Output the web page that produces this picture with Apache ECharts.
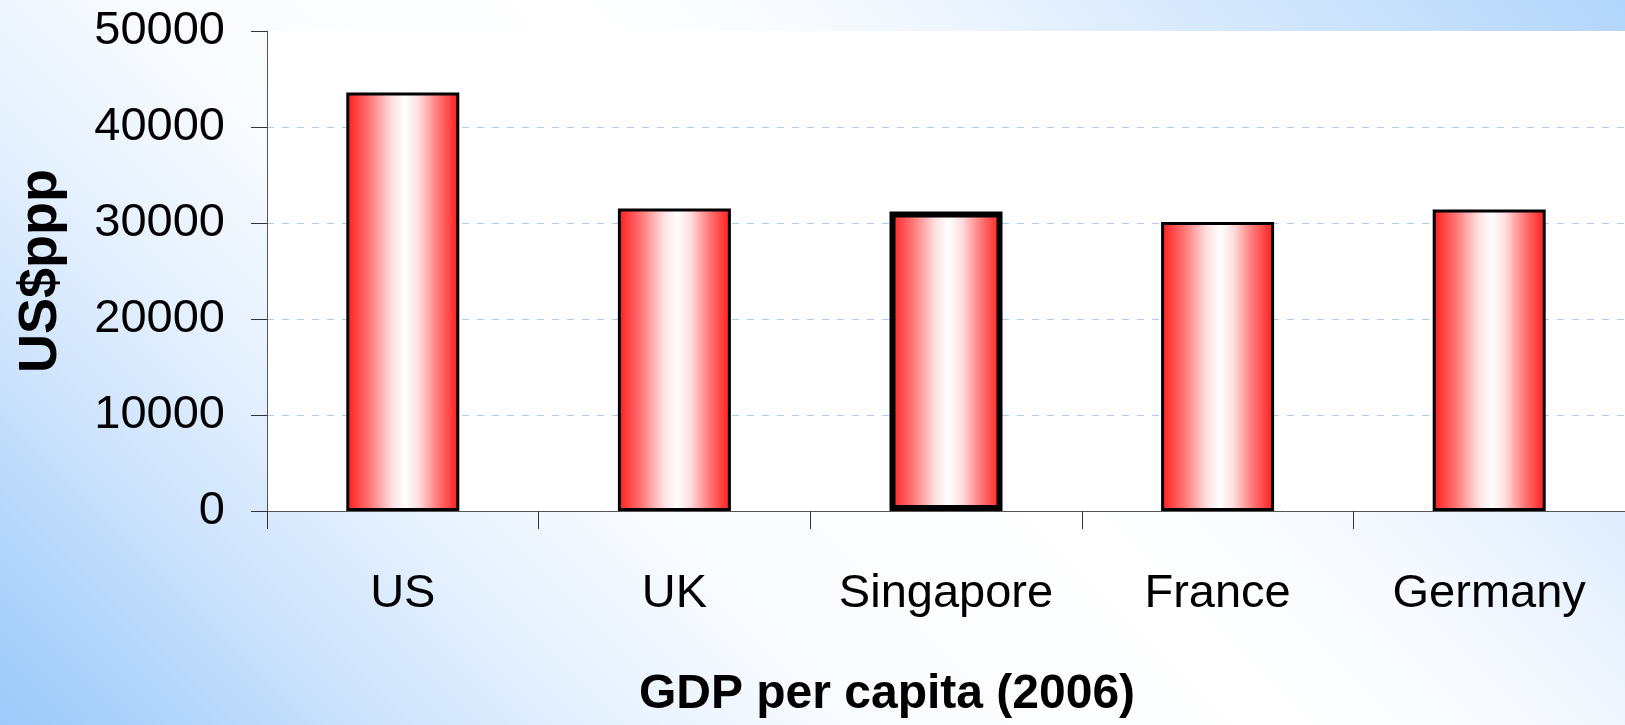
<!DOCTYPE html>
<html>
<head>
<meta charset="utf-8">
<script src="https://cdn.jsdelivr.net/npm/echarts@6/dist/echarts.min.js"></script>
<style>
  html, body { margin: 0; padding: 0; }
  #main { width: 1625px; height: 725px; }
</style>
</head>
<body>
<div id="main"></div>
<script>
// data
const countries = ['US', 'UK', 'Singapore', 'France', 'Germany']
const gdpPerCapita = [43600, 31500, 31200, 30100, 31400]
const borderWidths = [3, 3, 6, 3, 3]
const yTicks = { min: 0, max: 50000, step: 10000 }

const font = 'Liberation Sans, Arial, sans-serif'

const barFill = new echarts.graphic.LinearGradient(0, 0, 1, 0, [
  { offset: 0, color: '#ff1a1a' },
  { offset: 0.2, color: '#ff7272' },
  { offset: 0.4, color: '#ffdede' },
  { offset: 0.52, color: '#ffffff' },
  { offset: 0.64, color: '#ffdede' },
  { offset: 0.82, color: '#ff7272' },
  { offset: 1, color: '#ff1a1a' }
])

const myChart = echarts.init(document.getElementById('main'))
const option = {
  backgroundColor: {
    type: 'linear',
    global: true,
    x: 0, y: 725, x2: 1175, y2: -450,
    colorStops: [
      { offset: 0, color: '#9ccafa' },
      { offset: 0.08, color: '#b2d5fb' },
      { offset: 0.16, color: '#cde3fc' },
      { offset: 0.26, color: '#e6f1fe' },
      { offset: 0.36, color: '#f8fbff' },
      { offset: 0.55, color: '#ffffff' },
      { offset: 0.68, color: '#f3f8ff' },
      { offset: 0.78, color: '#deecfd' },
      { offset: 0.9, color: '#c6e0fc' },
      { offset: 1, color: '#b1d5fb' }
    ]
  },
  animation: false,
  title: {
    text: 'GDP per capita (2006)',
    left: 882,
    top: 666,
    textAlign: 'center',
    textStyle: { fontFamily: font, fontSize: 48, fontWeight: 'bold', color: '#000' }
  },
  grid: {
    left: 267,
    top: 31,
    right: -6,
    bottom: 214,
    show: true,
    backgroundColor: '#ffffff',
    borderWidth: 0
  },
  xAxis: {
    type: 'category',
    data: countries,
    axisLine: { lineStyle: { color: '#555', width: 1 } },
    axisTick: { show: true, length: 18, lineStyle: { color: '#333' } },
    axisLabel: { fontFamily: font, fontSize: 47, color: '#000', margin: 60, interval: 0 },
    splitLine: { show: false }
  },
  yAxis: {
    type: 'value',
    min: yTicks.min,
    max: yTicks.max,
    interval: yTicks.step,
    name: 'US$ppp',
    nameLocation: 'middle',
    nameGap: 199,
    nameTextStyle: { fontFamily: font, fontSize: 54, fontWeight: 'bold', color: '#000' },
    axisLine: { show: true, lineStyle: { color: '#555', width: 1 } },
    axisTick: { show: true, length: 16, lineStyle: { color: '#333' } },
    axisLabel: {
      fontFamily: font,
      fontSize: 47,
      color: '#000',
      margin: 42,
      formatter: v => String(v)
    },
    splitLine: {
      show: true,
      showMinLine: false,
      showMaxLine: false,
      lineStyle: { color: '#a9cdf3', type: [7, 8], width: 1 }
    }
  },
  series: [
    {
      type: 'bar',
      barWidth: 113,
      data: gdpPerCapita.map((v, i) => ({
        value: v,
        itemStyle: { borderWidth: borderWidths[i] }
      })),
      itemStyle: {
        color: barFill,
        borderColor: '#000'
      }
    }
  ]
}
myChart.setOption(option)
</script>
</body>
</html>
